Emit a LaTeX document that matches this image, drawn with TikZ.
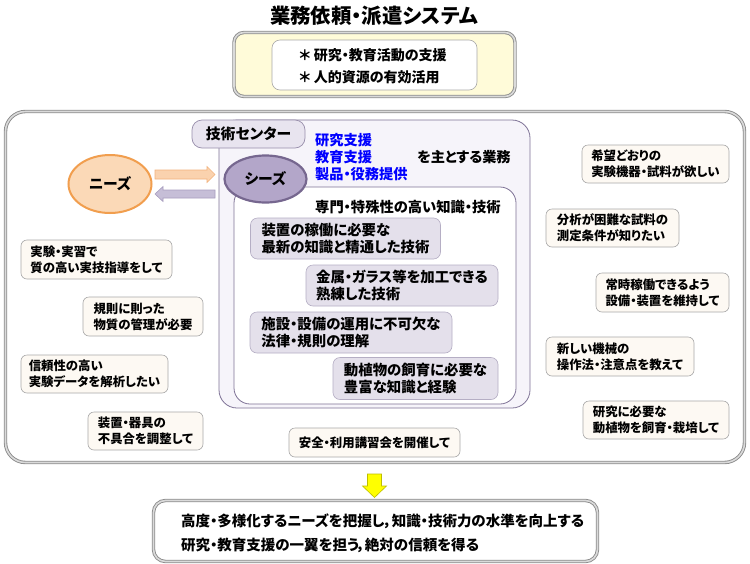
\documentclass[tikz,border=0pt]{standalone}
\usepackage{fontspec}
\setmainfont{Noto Sans CJK JP}[RawFeature=+palt]
\usetikzlibrary{shapes.geometric}
\definecolor{frameg}{HTML}{8C8C8C}
\definecolor{framegl}{HTML}{DADADA}
\definecolor{topfill}{HTML}{FFFBD9}
\definecolor{tabfill}{HTML}{E8E4EF}
\definecolor{lavline}{HTML}{7E7296}
\definecolor{cfill}{HTML}{F6F4FA}
\definecolor{gboxfill}{HTML}{E4E0EB}
\definecolor{gboxline}{HTML}{B5AEC4}
\definecolor{beige}{HTML}{FDF9F3}
\definecolor{bline}{HTML}{A8A8A8}
\definecolor{seedfill}{HTML}{B3A6C9}
\definecolor{seedline}{HTML}{76678F}
\definecolor{needfill}{HTML}{FBD9B7}
\definecolor{needline}{HTML}{F19E4E}
\definecolor{oarrow}{HTML}{FAD2AE}
\definecolor{oarrowl}{HTML}{F2B27C}
\definecolor{parrow}{HTML}{C6BED7}
\definecolor{parrowl}{HTML}{A89EBF}
\definecolor{txtblue}{HTML}{0000FF}
\definecolor{yarrow}{HTML}{FFFF00}
\definecolor{yarrowl}{HTML}{BDBD00}
\tikzset{
  dframe/.style={draw=frameg, double=framegl, double distance=1.6pt, line width=0.9pt},
  lbox/.style={draw=bline, fill=beige, rounded corners=6pt, line width=0.6pt, align=left,
     inner sep=0pt, font=\bfseries\fontsize{12.4}{16}\selectfont},
  gbox/.style={draw=gboxline, fill=gboxfill, rounded corners=7pt, line width=0.6pt, align=left,
     inner sep=0pt, font=\bfseries\fontsize{14.4}{17}\selectfont},
  plain/.style={inner sep=0pt, align=left, font=\bfseries\fontsize{13.5}{17}\selectfont}
}
\begin{document}
\begin{tikzpicture}[x=1pt,y=-1pt]
\useasboundingbox (0,0) rectangle (750,563);
% title
\node[inner sep=0pt, font=\bfseries\fontsize{20.4}{22}\selectfont] (title) at (374,16) {業務依頼・派遣システム};
% goal box
\node[dframe, fill=topfill, rounded corners=10pt, minimum width=281, minimum height=64] (goal) at (374.5,64.5) {};
\node[draw=bline, fill=white, rounded corners=8pt, line width=0.6pt, minimum width=205, minimum height=50] (goalin) at (374.5,65) {};
\node[plain, font=\bfseries\fontsize{14}{22}\selectfont] (goaltxt) at (373,66) {＊ 研究・教育活動の支援\\＊ 人的資源の有効活用};
% outer frame
\node[dframe, fill=white, rounded corners=20pt, minimum width=739, minimum height=351] (outer) at (375,287) {};
% center frame
\node[draw=lavline, fill=cfill, rounded corners=18pt, line width=0.8pt, minimum width=311, minimum height=288] (center) at (374.5,264) {};
\node[draw=lavline!80, fill=tabfill, rounded corners=10pt, line width=0.7pt, minimum width=113, minimum height=28,
  font=\bfseries\fontsize{14.8}{17}\selectfont] (tab) at (248.5,134) {技術センター};
\node[plain, text=txtblue, font=\bfseries\fontsize{14.2}{17}\selectfont, anchor=west] (blue) at (315,157) {研究支援\\教育支援\\製品・役務提供};
\node[plain, font=\bfseries\fontsize{14.2}{17}\selectfont, anchor=west] (gyomu) at (417,157) {を主とする業務};
% inner white
\node[draw=lavline, fill=white, rounded corners=16pt, line width=0.8pt, minimum width=282, minimum height=217] (inner) at (375,295.5) {};
\node[plain, font=\bfseries\fontsize{14.3}{17}\selectfont, anchor=west] (senmon) at (315,207) {専門・特殊性の高い知識・技術};
\node[gbox, minimum width=190, minimum height=41] (g1) at (345.5,238.5) {装置の稼働に必要な\\最新の知識と精通した技術};
\node[gbox, minimum width=192, minimum height=41] (g2) at (402,285.5) {金属・ガラス等を加工できる\\熟練した技術};
\node[gbox, minimum width=202, minimum height=41] (g3) at (351,332.5) {施設・設備の運用に不可欠な\\法律・規則の理解};
\node[gbox, minimum width=165, minimum height=42] (g4) at (415.5,378.5) {動植物の飼育に必要な\\豊富な知識と経験};
% ellipses
\node[ellipse, draw=seedline, fill=seedfill, line width=2.2pt, minimum width=82, minimum height=47, inner sep=0pt,
  font=\bfseries\fontsize{14.8}{17}\selectfont] (seeds) at (265.5,179) {シーズ};
\node[ellipse, draw=needline, fill=needfill, line width=2pt, minimum width=83, minimum height=58, inner sep=0pt,
  font=\bfseries\fontsize{14.8}{17}\selectfont] (needs) at (110,184) {ニーズ};
% arrows between needs and seeds
\filldraw[fill=oarrow, draw=oarrowl, line width=0.6pt] (155,170) -- (207,170) -- (207,166.5) -- (215,174.5) -- (207,182.5) -- (207,179) -- (155,179) -- cycle;
\filldraw[fill=parrow, draw=parrowl, line width=0.6pt] (215,190) -- (163,190) -- (163,186.5) -- (155,194) -- (163,201.5) -- (163,198) -- (215,198) -- cycle;
% left boxes
\node[lbox, minimum width=151, minimum height=39] (l1) at (96.5,259.5) {実験・実習で\\質の高い実技指導をして};
\node[lbox, minimum width=120, minimum height=39] (l2) at (143,316.5) {規則に則った\\物質の管理が必要};
\node[lbox, minimum width=147, minimum height=38] (l3) at (94.5,374) {信頼性の高い\\実験データを解析したい};
\node[lbox, minimum width=115, minimum height=38] (l4) at (145.5,431) {装置・器具の\\不具合を調整して};
% right boxes
\node[lbox, minimum width=147, minimum height=38] (r1) at (655.5,164) {希望どおりの\\実験機器・試料が欲しい};
\node[lbox, minimum width=133, minimum height=38] (r2) at (612.5,228) {分析が困難な試料の\\測定条件が知りたい};
\node[lbox, minimum width=133, minimum height=39] (r3) at (662.5,292.5) {常時稼働できるよう\\設備・装置を維持して};
\node[lbox, minimum width=148, minimum height=39] (r4) at (620,356.5) {新しい機械の\\操作法・注意点を教えて};
\node[lbox, minimum width=146, minimum height=38] (r5) at (656,420) {研究に必要な\\動植物を飼育・栽培して};
% safety
\node[lbox, minimum width=171, minimum height=29] (safety) at (374.5,442.5) {安全・利用講習会を開催して};
% yellow arrow
\filldraw[fill=yarrow, draw=yarrowl, line width=0.6pt] (367.5,474) -- (381.5,474) -- (381.5,486) -- (386.5,486) -- (374.5,497.5) -- (362.5,486) -- (367.5,486) -- cycle;
% bottom box
\node[dframe, fill=white, rounded corners=12pt, minimum width=444, minimum height=61] (result) at (375.5,531) {};
\node[plain, anchor=west, font=\bfseries\fontsize{14.5}{24}\selectfont] (restxt) at (181,533) {高度・多様化するニーズを把握し，知識・技術力の水準を向上する\\研究・教育支援の一翼を担う，絶対の信頼を得る};
\end{tikzpicture}
\end{document}
